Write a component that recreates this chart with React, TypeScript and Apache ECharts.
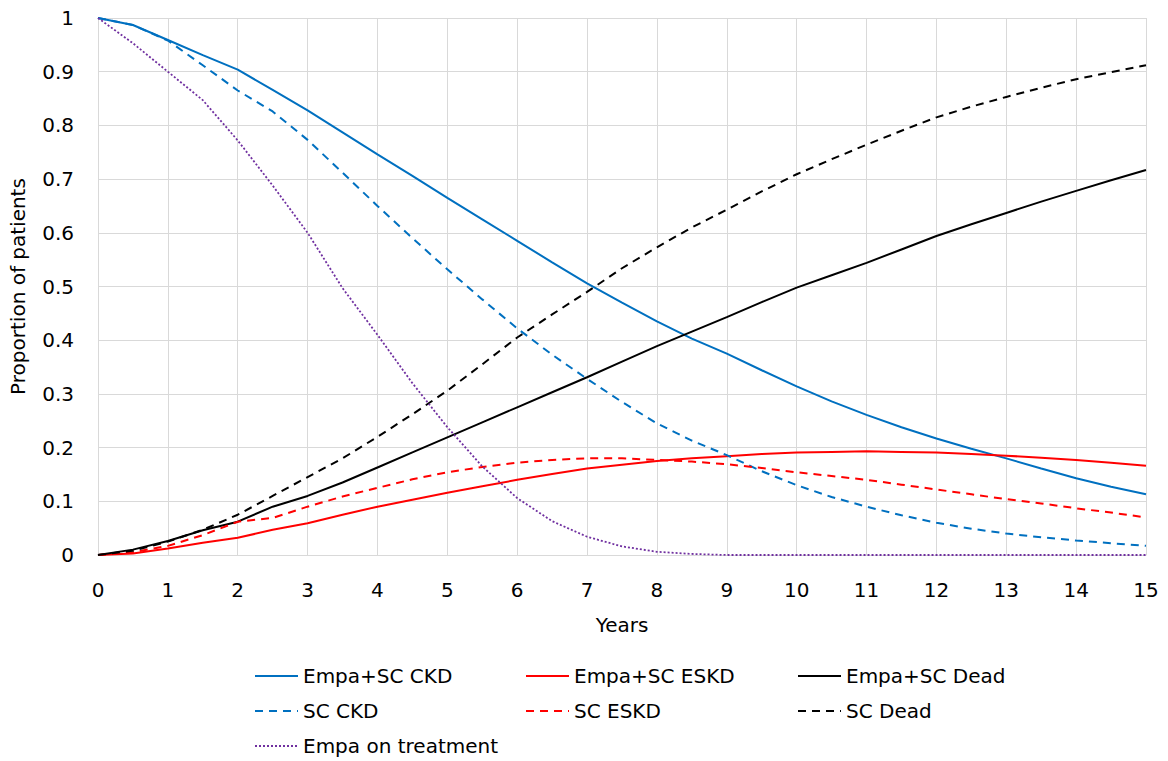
import React, { useEffect, useRef } from "react";
import * as echarts from "echarts";

const years = [0, 0.5, 1, 1.5, 2, 2.5, 3, 3.5, 4, 4.5, 5, 5.5, 6, 6.5, 7, 7.5, 8, 8.5, 9, 9.5, 10, 10.5, 11, 11.5, 12, 12.5, 13, 13.5, 14, 14.5, 15];

const empaCKD = [1.0, 0.987, 0.959, 0.931, 0.904, 0.866, 0.828, 0.787, 0.746, 0.706, 0.665, 0.625, 0.585, 0.545, 0.506, 0.47, 0.435, 0.403, 0.375, 0.344, 0.314, 0.286, 0.261, 0.238, 0.217, 0.198, 0.18, 0.161, 0.143, 0.127, 0.113];
const scCKD = [1.0, 0.987, 0.958, 0.912, 0.865, 0.826, 0.773, 0.712, 0.65, 0.59, 0.532, 0.476, 0.422, 0.373, 0.328, 0.285, 0.245, 0.213, 0.186, 0.156, 0.13, 0.108, 0.09, 0.074, 0.06, 0.049, 0.04, 0.033, 0.027, 0.022, 0.017];
const empaESKD = [0, 0.003, 0.012, 0.023, 0.032, 0.047, 0.059, 0.075, 0.09, 0.103, 0.116, 0.128, 0.14, 0.151, 0.161, 0.168, 0.175, 0.18, 0.184, 0.188, 0.191, 0.192, 0.193, 0.192, 0.191, 0.188, 0.185, 0.181, 0.177, 0.172, 0.166];
const scESKD = [0, 0.005, 0.017, 0.037, 0.062, 0.069, 0.09, 0.109, 0.125, 0.141, 0.154, 0.164, 0.172, 0.177, 0.18, 0.18, 0.177, 0.174, 0.169, 0.162, 0.154, 0.147, 0.14, 0.131, 0.122, 0.113, 0.104, 0.096, 0.087, 0.079, 0.07];
const empaDead = [0, 0.01, 0.026, 0.046, 0.062, 0.09, 0.11, 0.135, 0.163, 0.191, 0.219, 0.247, 0.275, 0.303, 0.331, 0.36, 0.389, 0.416, 0.443, 0.471, 0.498, 0.521, 0.544, 0.569, 0.594, 0.616, 0.637, 0.658, 0.678, 0.698, 0.717];
const scDead = [0, 0.008, 0.025, 0.047, 0.075, 0.11, 0.145, 0.18, 0.22, 0.262, 0.306, 0.355, 0.405, 0.448, 0.49, 0.534, 0.573, 0.61, 0.643, 0.677, 0.709, 0.737, 0.764, 0.79, 0.815, 0.835, 0.853, 0.87, 0.886, 0.899, 0.912];
const empaOnTreatment = [1.0, 0.953, 0.9, 0.847, 0.772, 0.688, 0.6, 0.497, 0.41, 0.32, 0.238, 0.165, 0.106, 0.063, 0.034, 0.016, 0.006, 0.002, 0, 0, 0, 0, 0, 0, 0, 0, 0, 0, 0, 0, 0];

const FONT = "DejaVu Sans";
const BLUE = "#0070C0";
const RED = "#FF0000";
const BLACK = "#000000";
const PURPLE = "#7030A0";
const GRID = "#D9D9D9";

function pairs(vals: number[]) {
  return years.map((x, i) => [x, vals[i]]);
}

function mkSeries(name: string, vals: number[], color: string, type: any, width: number) {
  return {
    name,
    type: "line",
    data: pairs(vals),
    symbol: "none",
    lineStyle: { color, width, type },
    itemStyle: { color },
    z: 3,
  };
}

export default function App() {
  const ref = useRef<HTMLDivElement>(null);
  useEffect(() => {
    if (!ref.current) return;
    const chart = echarts.init(ref.current, null, { renderer: "svg" });
    const legendCommon = {
      orient: "vertical",
      top: 661,
      height: 120,
      itemWidth: 43,
      itemHeight: 14,
      itemGap: 15,
      textStyle: { fontFamily: FONT, fontSize: 20, color: "#000", lineHeight: 20 },
      itemStyle: { color: "rgba(0,0,0,0)", borderColor: "rgba(0,0,0,0)", borderWidth: 0, opacity: 0 },
      selectedMode: false,
    };
    chart.setOption({
      animation: false,
      backgroundColor: "#fff",
      grid: { left: 98, right: 22, top: 18, bottom: 206, containLabel: false },
      xAxis: {
        type: "value",
        min: 0,
        max: 15,
        interval: 1,
        name: "Years",
        nameLocation: "middle",
        nameGap: 60,
        nameTextStyle: { fontFamily: FONT, fontSize: 20, color: "#000" },
        axisLine: { show: true, lineStyle: { color: GRID, width: 1 } },
        axisTick: { show: false },
        axisLabel: { fontFamily: FONT, fontSize: 20, color: "#000", margin: 25 },
        splitLine: { show: true, lineStyle: { color: GRID, width: 1 } },
      },
      yAxis: {
        type: "value",
        min: 0,
        max: 1,
        interval: 0.1,
        name: "Proportion of patients",
        nameLocation: "middle",
        nameGap: 70,
        nameTextStyle: { fontFamily: FONT, fontSize: 20, color: "#000" },
        axisLine: { show: true, lineStyle: { color: GRID, width: 1 } },
        axisTick: { show: false },
        axisLabel: {
          fontFamily: FONT,
          fontSize: 20,
          color: "#000",
          margin: 24,
          formatter: (v: number) => String(Math.round(v * 10) / 10),
        },
        splitLine: { show: true, lineStyle: { color: GRID, width: 1 } },
      },
      legend: [
        { ...legendCommon, left: 249, data: ["Empa+SC CKD", "SC CKD", "Empa on treatment"] },
        { ...legendCommon, left: 520, data: ["Empa+SC ESKD", "SC ESKD"] },
        { ...legendCommon, left: 792, data: ["Empa+SC Dead", "SC Dead"] },
      ],
      series: [
        mkSeries("Empa+SC CKD", empaCKD, BLUE, "solid", 2),
        mkSeries("Empa+SC ESKD", empaESKD, RED, "solid", 2),
        mkSeries("Empa+SC Dead", empaDead, BLACK, "solid", 2),
        mkSeries("SC CKD", scCKD, BLUE, [8, 6], 2),
        mkSeries("SC ESKD", scESKD, RED, [8, 6], 2),
        mkSeries("SC Dead", scDead, BLACK, [8, 6], 2),
        mkSeries("Empa on treatment", empaOnTreatment, PURPLE, [2, 2], 1.8),
      ],
    });
    return () => chart.dispose();
  }, []);
  return (
    <div
      ref={ref}
      style={{ position: "fixed", left: 0, top: 0, width: 1168, height: 761, background: "#fff" }}
    />
  );
}
